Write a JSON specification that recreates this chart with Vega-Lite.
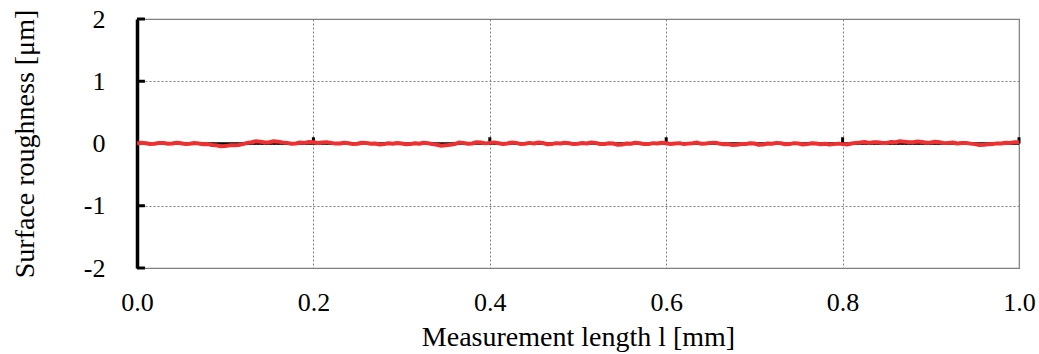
{
  "$schema": "https://vega.github.io/schema/vega-lite/v6.json",
  "width": 882,
  "height": 249,
  "autosize": "none",
  "padding": {"left": 137, "top": 19, "right": 20, "bottom": 86},
  "background": "white",
  "config": {
    "view": {"stroke": "#808080", "strokeWidth": 1.2},
    "font": "Liberation Serif",
    "axis": {"labelFont": "Liberation Serif", "titleFont": "Liberation Serif", "labelColor": "black", "titleColor": "black", "titleFontWeight": "normal", "labelFontSize": 26, "titleFontSize": 28, "ticks": false, "grid": true, "gridColor": "#808080", "gridDash": [2, 2], "gridWidth": 1, "labelFlush": false, "labelOverlap": false},
    "axisX": {"domain": false, "labelPadding": 21, "titlePadding": 8},
    "axisY": {"domainColor": "black", "domainWidth": 3.5, "labelPadding": 32, "titlePadding": 44}
  },
  "datasets": {
    "profile": [
      {"x":0.000,"y":0.00},{"x":0.005,"y":0.012},{"x":0.010,"y":0.005},{"x":0.015,"y":-0.008},{"x":0.020,"y":-0.005},
      {"x":0.025,"y":0.01},{"x":0.030,"y":0.01},{"x":0.035,"y":-0.005},{"x":0.040,"y":0.0},{"x":0.045,"y":0.012},
      {"x":0.050,"y":0.005},{"x":0.055,"y":-0.01},{"x":0.060,"y":-0.005},{"x":0.065,"y":0.008},{"x":0.070,"y":0.0},
      {"x":0.075,"y":-0.012},{"x":0.080,"y":-0.01},{"x":0.085,"y":-0.025},{"x":0.090,"y":-0.03},{"x":0.095,"y":-0.045},
      {"x":0.100,"y":-0.04},{"x":0.105,"y":-0.03},{"x":0.110,"y":-0.03},{"x":0.115,"y":-0.025},{"x":0.120,"y":-0.01},
      {"x":0.125,"y":0.01},{"x":0.130,"y":0.02},{"x":0.135,"y":0.035},{"x":0.140,"y":0.03},{"x":0.145,"y":0.015},
      {"x":0.150,"y":0.02},{"x":0.155,"y":0.035},{"x":0.160,"y":0.03},{"x":0.165,"y":0.018},{"x":0.170,"y":0.01},
      {"x":0.175,"y":-0.005},{"x":0.180,"y":0.0},{"x":0.185,"y":0.015},{"x":0.190,"y":0.01},{"x":0.195,"y":0.025},
      {"x":0.200,"y":0.02},{"x":0.205,"y":0.008},{"x":0.210,"y":0.015},{"x":0.215,"y":0.022},{"x":0.220,"y":0.01},
      {"x":0.225,"y":-0.002},{"x":0.230,"y":0.0},{"x":0.235,"y":0.012},{"x":0.240,"y":0.005},{"x":0.245,"y":-0.01},
      {"x":0.250,"y":-0.005},{"x":0.255,"y":0.012},{"x":0.260,"y":0.01},{"x":0.265,"y":-0.005},{"x":0.270,"y":0.0},
      {"x":0.275,"y":-0.015},{"x":0.280,"y":-0.01},{"x":0.285,"y":0.005},{"x":0.290,"y":-0.005},{"x":0.295,"y":0.008},
      {"x":0.300,"y":0.0},{"x":0.305,"y":-0.012},{"x":0.310,"y":-0.01},{"x":0.315,"y":0.004},{"x":0.320,"y":-0.005},
      {"x":0.325,"y":0.012},{"x":0.330,"y":0.005},{"x":0.335,"y":-0.01},{"x":0.340,"y":-0.02},{"x":0.345,"y":-0.035},
      {"x":0.350,"y":-0.03},{"x":0.355,"y":-0.02},{"x":0.360,"y":-0.01},{"x":0.365,"y":0.015},{"x":0.370,"y":0.01},
      {"x":0.375,"y":-0.005},{"x":0.380,"y":0.0},{"x":0.385,"y":0.02},{"x":0.390,"y":0.015},{"x":0.395,"y":0.002},
      {"x":0.400,"y":0.01},{"x":0.405,"y":0.018},{"x":0.410,"y":0.005},{"x":0.415,"y":-0.008},{"x":0.420,"y":0.0},
      {"x":0.425,"y":0.016},{"x":0.430,"y":0.01},{"x":0.435,"y":-0.01},{"x":0.440,"y":-0.005},{"x":0.445,"y":0.01},
      {"x":0.450,"y":0.0},{"x":0.455,"y":0.015},{"x":0.460,"y":0.01},{"x":0.465,"y":-0.012},{"x":0.470,"y":-0.01},
      {"x":0.475,"y":0.006},{"x":0.480,"y":0.0},{"x":0.485,"y":0.012},{"x":0.490,"y":0.005},{"x":0.495,"y":-0.01},
      {"x":0.500,"y":-0.005},{"x":0.505,"y":0.008},{"x":0.510,"y":0.0},{"x":0.515,"y":0.016},{"x":0.520,"y":0.01},
      {"x":0.525,"y":-0.008},{"x":0.530,"y":-0.01},{"x":0.535,"y":0.005},{"x":0.540,"y":0.0},{"x":0.545,"y":-0.02},
      {"x":0.550,"y":-0.015},{"x":0.555,"y":0.0},{"x":0.560,"y":-0.005},{"x":0.565,"y":0.012},{"x":0.570,"y":0.005},
      {"x":0.575,"y":-0.01},{"x":0.580,"y":-0.01},{"x":0.585,"y":0.006},{"x":0.590,"y":0.0},{"x":0.595,"y":0.012},
      {"x":0.600,"y":0.005},{"x":0.605,"y":-0.008},{"x":0.610,"y":0.0},{"x":0.615,"y":0.006},{"x":0.620,"y":-0.01},
      {"x":0.625,"y":-0.002},{"x":0.630,"y":0.005},{"x":0.635,"y":0.015},{"x":0.640,"y":-0.005},{"x":0.645,"y":0.0},
      {"x":0.650,"y":0.01},{"x":0.655,"y":0.014},{"x":0.660,"y":0.0},{"x":0.665,"y":-0.012},{"x":0.670,"y":-0.01},
      {"x":0.675,"y":-0.025},{"x":0.680,"y":-0.02},{"x":0.685,"y":-0.008},{"x":0.690,"y":-0.01},{"x":0.695,"y":0.005},
      {"x":0.700,"y":0.0},{"x":0.705,"y":-0.02},{"x":0.710,"y":-0.015},{"x":0.715,"y":0.0},{"x":0.720,"y":-0.005},
      {"x":0.725,"y":0.01},{"x":0.730,"y":0.005},{"x":0.735,"y":-0.012},{"x":0.740,"y":-0.01},{"x":0.745,"y":0.006},
      {"x":0.750,"y":0.0},{"x":0.755,"y":-0.015},{"x":0.760,"y":-0.01},{"x":0.765,"y":0.004},{"x":0.770,"y":0.0},
      {"x":0.775,"y":-0.012},{"x":0.780,"y":-0.005},{"x":0.785,"y":-0.018},{"x":0.790,"y":-0.01},{"x":0.795,"y":-0.002},
      {"x":0.800,"y":-0.01},{"x":0.805,"y":-0.018},{"x":0.810,"y":0.0},{"x":0.815,"y":0.01},{"x":0.820,"y":0.015},
      {"x":0.825,"y":0.025},{"x":0.830,"y":0.01},{"x":0.835,"y":0.02},{"x":0.840,"y":0.02},{"x":0.845,"y":0.008},
      {"x":0.850,"y":0.01},{"x":0.855,"y":0.025},{"x":0.860,"y":0.02},{"x":0.865,"y":0.035},{"x":0.870,"y":0.03},
      {"x":0.875,"y":0.02},{"x":0.880,"y":0.02},{"x":0.885,"y":0.032},{"x":0.890,"y":0.025},{"x":0.895,"y":0.012},
      {"x":0.900,"y":0.015},{"x":0.905,"y":0.028},{"x":0.910,"y":0.02},{"x":0.915,"y":0.006},{"x":0.920,"y":0.01},
      {"x":0.925,"y":0.015},{"x":0.930,"y":0.0},{"x":0.935,"y":0.008},{"x":0.940,"y":0.01},{"x":0.945,"y":-0.002},
      {"x":0.950,"y":-0.01},{"x":0.955,"y":-0.025},{"x":0.960,"y":-0.02},{"x":0.965,"y":-0.012},{"x":0.970,"y":-0.01},
      {"x":0.975,"y":0.002},{"x":0.980,"y":0.0},{"x":0.985,"y":0.012},{"x":0.990,"y":0.01},{"x":0.995,"y":0.02},
      {"x":1.000,"y":0.02}
    ],
    "xticks": [{"x":0.2},{"x":0.4},{"x":0.6},{"x":0.8},{"x":1.0}],
    "yticks": [{"y":-2},{"y":-1},{"y":0},{"y":1},{"y":2}]
  },
  "layer": [
    {
      "data": {"name": "yticks"},
      "mark": {"type": "rule", "color": "black", "strokeWidth": 1.5},
      "encoding": {
        "y": {"datum": 0, "type": "quantitative", "scale": {"domain": [-2, 2], "nice": false},
          "axis": {"title": "Surface roughness [μm]", "values": [-2,-1,0,1,2], "labelExpr": "toString(datum.value)"}},
        "x": {"datum": 0, "type": "quantitative", "scale": {"domain": [0, 1], "nice": false},
          "axis": {"title": "Measurement length l [mm]", "values": [0,0.2,0.4,0.6,0.8,1.0], "labelExpr": "format(datum.value, '.1f')"}},
        "x2": {"datum": 1}
      }
    },
    {
      "data": {"name": "xticks"},
      "mark": {"type": "rule", "color": "black", "strokeWidth": 3},
      "encoding": {
        "x": {"field": "x", "type": "quantitative"},
        "y": {"datum": 0, "type": "quantitative"},
        "y2": {"datum": 0.1}
      }
    },
    {
      "data": {"name": "yticks"},
      "mark": {"type": "rule", "color": "black", "strokeWidth": 3},
      "encoding": {
        "y": {"field": "y", "type": "quantitative"},
        "x": {"datum": 0, "type": "quantitative"},
        "x2": {"datum": 0.009}
      }
    },
    {
      "data": {"name": "profile"},
      "mark": {"type": "line", "color": "#ee3030", "strokeWidth": 4, "strokeJoin": "round", "clip": true},
      "encoding": {
        "x": {"field": "x", "type": "quantitative"},
        "y": {"field": "y", "type": "quantitative"}
      }
    }
  ]
}
